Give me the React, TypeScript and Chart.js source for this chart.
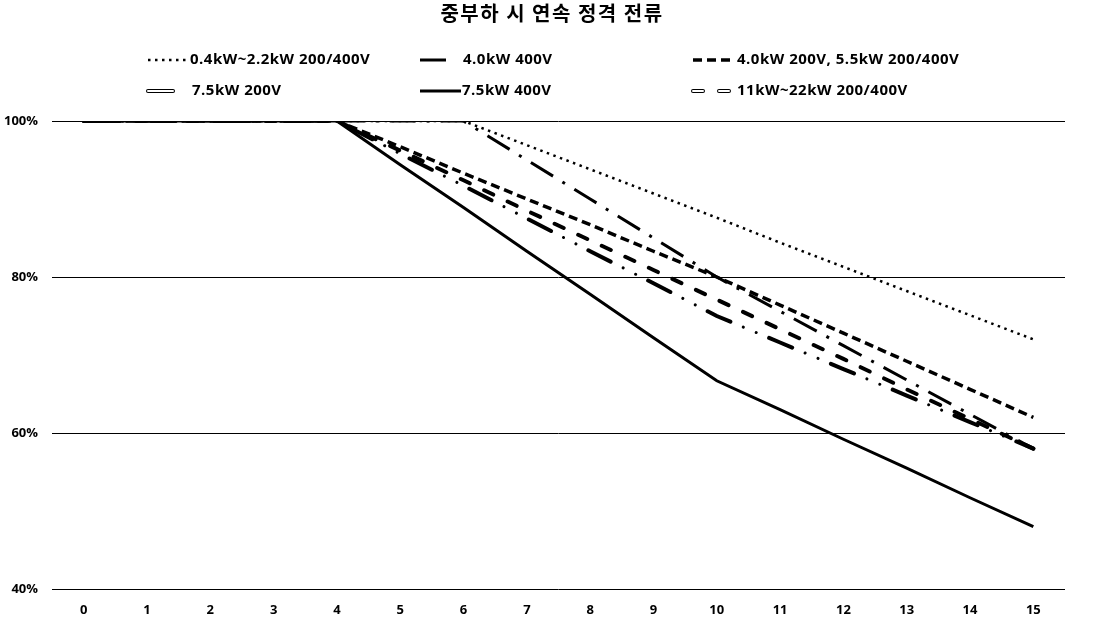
import React, { useEffect, useRef } from 'react';
import { Chart, registerables } from 'chart.js';
Chart.register(...registerables);

const TITLE = '중부하 시 연속 정격 전류';
const xLabels = ['0', '1', '2', '3', '4', '5', '6', '7', '8', '9', '10', '11', '12', '13', '14', '15'];
const yTickValues = [40, 60, 80, 100];

const names = [
  '0.4kW~2.2kW 200/400V',
  '4.0kW 400V',
  '4.0kW 200V, 5.5kW 200/400V',
  '7.5kW 200V',
  '7.5kW 400V',
  '11kW~22kW 200/400V',
];

const s0422 = [100, 100, 100, 100, 100, 100, 100, 96.9, 93.8, 90.7, 87.6, 84.4, 81.3, 78.2, 75.1, 72];
const s40_400 = [100, 100, 100, 100, 100, 100, 100, 95, 90, 85, 80, 75.6, 71.2, 66.8, 62.4, 58];
const s40_200 = [100, 100, 100, 100, 100, 96.7, 93.3, 90, 86.7, 83.3, 80, 76.4, 72.8, 69.2, 65.6, 62];
const s75_200 = [100, 100, 100, 100, 100, 95.8, 91.7, 87.5, 83.3, 79.2, 75, 71.6, 68.2, 64.8, 61.4, 58];
const s75_400 = [100, 100, 100, 100, 100, 94.4, 88.9, 83.3, 77.8, 72.2, 66.7, 63, 59.2, 55.5, 51.7, 48];
const s11_22 = [100, 100, 100, 100, 100, 96.2, 92.4, 88.5, 84.7, 80.9, 77.1, 73.3, 69.5, 65.6, 61.8, 58];

type Stroke = { color: string; width: number; dash: number[]; cap: CanvasLineCap; offset?: number };

const styles: Stroke[][] = [
  [{ color: '#000', width: 2.5, dash: [2.5, 4.5], cap: 'butt' }],
  [{ color: '#000', width: 3, dash: [26, 11, 3, 11], cap: 'butt' }],
  [{ color: '#000', width: 3.5, dash: [9, 5], cap: 'butt' }],
  [
    { color: '#000', width: 4, dash: [25, 42], cap: 'round' },
    { color: '#fff', width: 2, dash: [25, 42], cap: 'round' },
    { color: '#000', width: 3, dash: [0.01, 14, 0.01, 52.98], cap: 'round', offset: 28 },
  ],
  [{ color: '#000', width: 3, dash: [], cap: 'butt' }],
  [
    { color: '#000', width: 4, dash: [10, 16], cap: 'round' },
    { color: '#fff', width: 2, dash: [10, 16], cap: 'round' },
  ],
];

const seriesData = [s0422, s40_400, s40_200, s75_200, s75_400, s11_22];

const legendPos = [
  { x: 148, y: 60, len: 38 },
  { x: 420, y: 60, len: 36 },
  { x: 693, y: 60, len: 38 },
  { x: 148, y: 91, len: 30 },
  { x: 420, y: 91, len: 41 },
  { x: 693, y: 91, len: 37 },
];
const legendTextX = [190, 463, 737, 192, 462, 737];

const overlayPlugin = {
  id: 'overlay',
  afterDraw(chart: any) {
    const ctx = chart.ctx as any;
    ctx.save();
    ctx.fillStyle = '#000';
    ctx.textAlign = 'center';
    ctx.textBaseline = 'middle';
    ctx.font = '700 20px "Noto Sans CJK KR"';
    ctx.letterSpacing = '1.5px';
    ctx.fillText(TITLE, 552, 13);
    ctx.textAlign = 'left';
    ctx.font = '700 15px "Open Sans"';
    ctx.letterSpacing = '0.5px';
    names.forEach((n, i) => {
      const p = legendPos[i];
      styles[i].forEach((s) => {
        ctx.beginPath();
        ctx.strokeStyle = s.color;
        ctx.lineWidth = s.width;
        ctx.lineCap = s.cap;
        ctx.setLineDash(s.dash);
        ctx.lineDashOffset = s.offset || 0;
        ctx.moveTo(p.x, p.y);
        ctx.lineTo(p.x + p.len, p.y);
        ctx.stroke();
      });
      ctx.setLineDash([]);
      ctx.fillStyle = '#000';
      ctx.fillText(n, legendTextX[i], p.y);
    });
    ctx.restore();
  },
};

export default function App() {
  const ref = useRef<HTMLCanvasElement>(null);
  useEffect(() => {
    document.body.style.margin = '0';
    const datasets: any[] = [];
    seriesData.forEach((d, i) => {
      styles[i].forEach((s) => {
        datasets.push({
          label: names[i],
          data: d,
          borderColor: s.color,
          borderWidth: s.width,
          borderDash: s.dash,
          borderDashOffset: s.offset || 0,
          borderCapStyle: s.cap,
          borderJoinStyle: 'miter',
          pointRadius: 0,
          tension: 0,
          fill: false,
        });
      });
    });
    const chart = new Chart(ref.current!, {
      type: 'line',
      data: { labels: xLabels, datasets },
      options: {
        animation: false,
        responsive: false,
        devicePixelRatio: 1,
        layout: { padding: { top: 121, right: 31, left: 0, bottom: 0 } },
        plugins: { legend: { display: false }, title: { display: false }, tooltip: { enabled: false } },
        scales: {
          x: {
            type: 'category',
            offset: true,
            grid: { display: false },
            border: { display: false },
            ticks: { color: '#000', font: { family: 'Open Sans', size: 13, weight: 'bold' }, padding: 5, maxRotation: 0 },
            afterFit: (s: any) => { s.height = 28; },
          },
          y: {
            min: 40,
            max: 100,
            afterBuildTicks: (s: any) => { s.ticks = yTickValues.map((v) => ({ value: v })); },
            grid: { color: '#000', lineWidth: 1, drawTicks: false },
            border: { display: false },
            ticks: {
              color: '#000',
              font: { family: 'Open Sans', size: 13, weight: 'bold' },
              padding: 14,
              callback: (v: any) => v + '%',
            },
            afterFit: (s: any) => { s.width = 52; },
          },
        },
      },
      plugins: [overlayPlugin],
    });
    return () => chart.destroy();
  }, []);
  return (
    <div style={{ width: 1096, height: 617 }}>
      <canvas ref={ref} width={1096} height={617} />
    </div>
  );
}
